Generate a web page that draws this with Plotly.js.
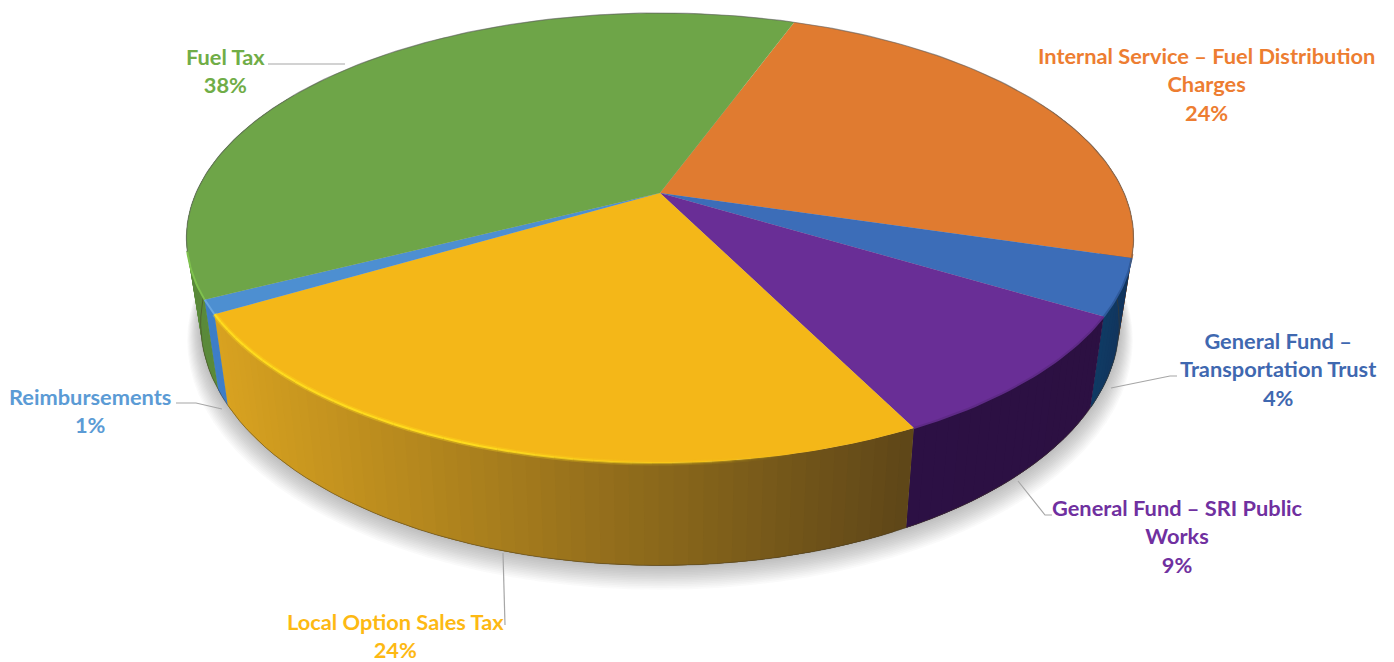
<!DOCTYPE html>
<html>
<head>
<meta charset="utf-8">
<script src="https://cdn.plot.ly/plotly-3.0.1.min.js"></script>
<style>html,body{margin:0;padding:0;background:#fff}#chart{width:1394px;height:662px}</style>
</head>
<body>
<div id="chart"></div>
<script>
// ---- data, clockwise from the first slice ----
const categories = ["Internal Service – Fuel Distribution<br>Charges", "General Fund –<br>Transportation Trust", "General Fund – SRI Public<br>Works", "Local Option Sales Tax", "Reimbursements", "Fuel Tax"];
const values = [24, 4, 9, 24, 1, 38];
const topColors = ["#e07b30", "#3c6db8", "#692e96", "#f4b718", "#4d8fd1", "#6ea548"];
const wallLeft = [[176,96,32], [15,58,100], [44,16,68], [216,162,32], [62,126,200], [90,138,58]];
const wallRight = [[176,96,32], [18,52,92], [44,16,66], [94,70,24], [62,126,200], [90,138,58]];
const rimColors = ["#c9702c", "#2f5a9c", "#5e2a86", "#ffdc1e", "#6aa7e0", "#7fc24e"];
const labelColors = ["#ed7d31", "#3f68b0", "#7030a0", "#fdb913", "#5b9bd5", "#70ad47"];
const labelX = [1206, 1278, 1177, 395, 90, 225];
const labelY = [84, 369, 536, 635, 410, 70];
const leaderX = [[1111, 1170, 1177], [1018, 1045, 1052], [503, 505], [176, 196, 222], [268, 345]];
const leaderY = [[388, 376, 376], [481, 515, 515], [553, 625], [403, 403, 409], [64, 64]];

// ---- perspective projection of the pie ----
const startAngle = 20.1, cx = 660, cy = 193, A = 464, B = 216, K = 0.2, H = 82, S = 0.97;
function topPt(deg, r = 1) {
  const t = deg * Math.PI / 180, u = r * Math.sin(t), v = -r * Math.cos(t), d = 1 - K * v;
  return [cx + A * u / d, cy + B * v / d];
}
function botPt(deg, r = 1, dy = 0) {
  const t = deg * Math.PI / 180, u = r * Math.sin(t), v = -r * Math.cos(t), d = 1 - K * v;
  return [cx + S * A * u / d, cy + B * v / d + H / d + dy];
}
function steps(a, b, step) {
  const out = [], n = Math.max(1, Math.ceil(Math.abs(b - a) / step));
  for (let i = 0; i <= n; i++) out.push(a + (b - a) * i / n);
  return out;
}
const total = values.reduce((s, v) => s + v, 0);
let acc = startAngle;
const spans = values.map(v => { const a = acc; acc += v / total * 360; return [a, acc]; });

const traces = [];
function poly(pts, color) {
  traces.push({
    type: "scatter", mode: "none", hoverinfo: "skip", showlegend: false,
    x: pts.map(p => p[0]), y: pts.map(p => p[1]), fill: "toself", fillcolor: color
  });
}
function stroke(pts, color, w) {
  traces.push({
    type: "scatter", mode: "lines", hoverinfo: "skip", showlegend: false,
    x: pts.map(p => p[0]), y: pts.map(p => p[1]), line: {color: color, width: w}
  });
}

// soft shadow under the pie
for (let i = 14; i >= 1; i--) {
  const pts = steps(0, 360, 3).map(a => botPt(a, 1 + i * 0.002, i * 1.0));
  poly(pts, "rgba(90,90,90,0.026)");
}

// side walls: every strip overlaps the one before it, so no seam shows
spans.forEach((s, k) => {
  const a0 = s[0], a1 = s[1];
  const st = steps(a0, a1, 1.5);
  const xa = topPt(a0)[0], xb = topPt(a1)[0];
  const xR = Math.max(xa, xb), xL = Math.min(xa, xb);
  for (let i = 0; i < st.length - 1; i++) {
    const a = st[i], b = st[i + 1], mid = (a + b) / 2;
    if (Math.cos(mid * Math.PI / 180) > 0.45) continue;
    const f = (xR - topPt(mid)[0]) / Math.max(1, xR - xL);
    const c = wallRight[k].map((q, j) => Math.round(q + (wallLeft[k][j] - q) * f));
    const fan = steps(a, Math.min(b + 3, a1), 0.75);
    const pts = fan.map(q => topPt(q)).concat(fan.slice().reverse().map(q => botPt(q)));
    poly(pts, `rgb(${c[0]},${c[1]},${c[2]})`);
  }
});

// wall lower edge
stroke(steps(92, 268, 2).map(a => botPt(a)), "rgba(70,60,40,0.5)", 1);

// top sectors
spans.forEach((s, k) => {
  poly([[cx, cy]].concat(steps(s[0], s[1], 1).map(a => topPt(a))), topColors[k]);
});

// rim highlights on the front edge, fading out towards the dark right side of the yellow wall
spans.forEach((s, k) => {
  if (k !== 3) {
    stroke(steps(s[0], s[1], 1).map(a => topPt(a)).filter(p => p[1] > 250), rimColors[k], 2);
    return;
  }
  const st = steps(Math.max(s[0], 165), s[1], 2);
  for (let i = 0; i < st.length - 1; i++) {
    const fade = Math.min(1, (st[i] - 165) / 35);
    const arc = [topPt(st[i]), topPt(st[i + 1])];
    stroke(arc, `rgba(255,220,30,${(0.35 * fade).toFixed(3)})`, 5);
    stroke(arc, `rgba(255,220,30,${fade.toFixed(3)})`, 2);
  }
});
stroke(steps(-105, 108, 1).map(a => topPt(a)), "rgba(95,95,95,0.6)", 1.2);

// leader lines
leaderX.forEach((xs, i) => {
  traces.push({type: "scatter", mode: "lines", hoverinfo: "skip", showlegend: false,
    x: xs, y: leaderY[i], line: {color: "#a6a6a6", width: 1.2}});
});

const annotations = categories.map((c, i) => ({
  x: labelX[i], y: labelY[i], xref: "x", yref: "y", showarrow: false,
  xanchor: "center", yanchor: "middle", align: "center",
  text: `<b>${c}<br>${values[i]}%</b>`,
  font: {family: "Lato, 'Open Sans', sans-serif", size: 21.8, color: labelColors[i]}
}));

Plotly.newPlot("chart", traces, {
  width: 1394, height: 662, margin: {l: 0, r: 0, t: 0, b: 0},
  paper_bgcolor: "#fff", plot_bgcolor: "#fff", showlegend: false,
  xaxis: {range: [0, 1394], visible: false, fixedrange: true},
  yaxis: {range: [662, 0], visible: false, fixedrange: true},
  annotations: annotations
}, {displayModeBar: false, staticPlot: true});
</script>
</body>
</html>
